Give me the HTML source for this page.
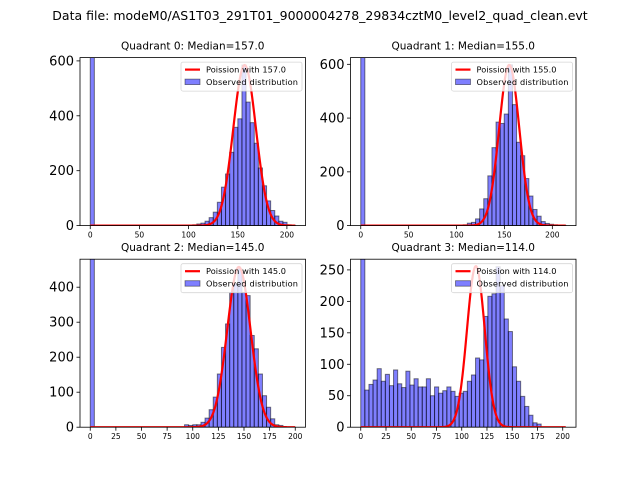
<!DOCTYPE html>
<html><head><meta charset="utf-8"><style>
html,body{margin:0;padding:0;background:#fff;}
svg{display:block;font-family:"DejaVu Sans","Liberation Sans",sans-serif;}
</style></head><body>
<svg id="fig" width="640" height="480" viewBox="0 0 640 480" xmlns="http://www.w3.org/2000/svg">
<rect width="640" height="480" fill="#fff"/>
<text x="320" y="20" font-size="12.5" text-anchor="middle">Data file: modeM0/AS1T03_291T01_9000004278_29834cztM0_level2_quad_clean.evt</text>
</svg>
<script>
// ---- data ----
const quadrantNames = ["Quadrant 0", "Quadrant 1", "Quadrant 2", "Quadrant 3"];
const medians = [157.0, 155.0, 145.0, 114.0];
const curveSigma = [11.5, 10.5, 11.4, 8.8];
const dataMax = [208.5, 214, 200, 203];
const yMax = [612, 625, 480, 267];
const poissonPeak = [585, 598, 458, 256];
const yTicks0 = [0, 200, 400, 600];
const yTicks1 = [0, 200, 400, 600];
const yTicks2 = [0, 100, 200, 300, 400];
const yTicks3 = [0, 50, 100, 150, 200, 250];
const xTicks0 = [0, 50, 100, 150, 200];
const xTicks1 = [0, 50, 100, 150, 200];
const xTicks2 = [0, 25, 50, 75, 100, 125, 150, 175, 200];
const xTicks3 = [0, 25, 50, 75, 100, 125, 150, 175, 200];
const counts0 = [2000,0,0,0,0,0,0,0,0,0,0,0,0,0,0,0,0,0,0,0,0,0,0,0,0,3,6,9,16,29,49,85,140,188,267,358,389,585,450,375,300,210,145,90,55,35,16,12,3,1];
const counts1 = [2000,0,0,0,0,0,0,0,0,0,0,0,0,0,0,0,0,0,0,0,0,0,0,0,0,3,9,12,25,62,100,185,290,385,380,415,598,450,310,260,175,110,60,35,15,8,5,3,1,1];
const counts2 = [2000,0,0,0,0,0,0,0,0,0,0,0,0,0,0,0,0,0,0,0,0,0,0,7,5,7,7,14,26,50,86,152,228,295,385,410,452,385,376,262,224,152,90,57,24,7,5,0,0,0];
const counts3 = [1000,59,68,75,93,73,84,66,91,69,63,89,67,77,64,64,77,50,64,54,58,64,57,49,54,57,73,83,110,107,176,208,212,255,225,172,152,96,73,49,33,19,7,5,0,0,0,0,0,0];
const allCounts = [counts0, counts1, counts2, counts3];
const allYTicks = [yTicks0, yTicks1, yTicks2, yTicks3];
const allXTicks = [xTicks0, xTicks1, xTicks2, xTicks3];

const NS = "http://www.w3.org/2000/svg";
const svg = document.getElementById('fig');
function mk(tag, attrs, parent) {
  const e = document.createElementNS(NS, tag);
  for (const k in attrs) e.setAttribute(k, attrs[k]);
  (parent || svg).appendChild(e);
  return e;
}
const axBoxes = [[80, 57.6], [350.5, 57.6], [80, 259.2], [350.5, 259.2]];
const AW = 225.5, AH = 168;

for (let q = 0; q < 4; q++) {
  const [L, T] = axBoxes[q];
  const g = mk('g', {});
  
  
  const xmin = -0.05 * dataMax[q], xmax = 1.05 * dataMax[q];
  const sx = v => L + (v - xmin) / (xmax - xmin) * AW;
  const sy = v => T + AH - v / yMax[q] * AH;
  const clipId = 'clip' + q;
  const cp = mk('clipPath', { id: clipId }, g);
  mk('rect', { x: L, y: T, width: AW, height: AH }, cp);
  const plot = mk('g', { 'clip-path': 'url(#' + clipId + ')' }, g);
  const counts = allCounts[q];
  const bw = dataMax[q] / counts.length;
  counts.forEach((c, k) => {
    if (c <= 0) return;
    const x0 = sx(k * bw), x1 = sx((k + 1) * bw);
    const y = sy(c);
    const r = mk('rect', { x: x0, y: y, width: x1 - x0, height: sy(0) - y, fill: 'rgba(0,0,255,0.5)', stroke: 'rgba(0,0,0,0.5)', 'stroke-width': 1 }, plot);
    
    
  });
  const mu = medians[q], sig = curveSigma[q];
  let d = '';
  for (let i = 0; i <= 300; i++) {
    const v = dataMax[q] * i / 300;
    const y = poissonPeak[q] * Math.exp(-0.5 * ((v - mu) / sig) ** 2);
    d += (i ? 'L' : 'M') + sx(v).toFixed(2) + ',' + sy(y).toFixed(2);
  }
  const curve = mk('path', { d: d, fill: 'none', stroke: '#ff0000', 'stroke-width': 2.2 }, plot);
  
  
  const fr = mk('rect', { x: L, y: T, width: AW, height: AH, fill: 'none', stroke: '#000', 'stroke-width': 0.8 }, g);
  
  
  allYTicks[q].forEach(t => {
    const y = sy(t);
    mk('line', { x1: L - 3.5, x2: L, y1: y, y2: y, stroke: '#000', 'stroke-width': 0.8 }, g);
    const tx = mk('text', { x: L - 6, y: y + 4.5, 'font-size': 13, 'text-anchor': 'end' }, g);
    tx.textContent = t;
    
    
  });
  allXTicks[q].forEach(t => {
    const x = sx(t);
    mk('line', { x1: x, x2: x, y1: T + AH, y2: T + AH + 3.5, stroke: '#000', 'stroke-width': 0.8 }, g);
    const tx = mk('text', { x: x, y: T + AH + 12, 'font-size': 7.5, 'text-anchor': 'middle' }, g);
    tx.textContent = t;
    
    
  });
  const ti = mk('text', { x: L + AW / 2, y: T - 8, 'font-size': 10.5, 'text-anchor': 'middle' }, g);
  ti.textContent = quadrantNames[q] + ': Median=' + medians[q].toFixed(1);
  
  
  const lg = mk('g', {}, g);
  
  
  const lx = L + AW - 124.5, ly = T + 4.5;
  mk('rect', { x: lx, y: ly, width: 121, height: 29, rx: 2, fill: 'rgba(255,255,255,0.8)', stroke: 'rgba(204,204,204,0.8)', 'stroke-width': 0.8 }, lg);
  mk('line', { x1: lx + 4, x2: lx + 19, y1: ly + 7.5, y2: ly + 7.5, stroke: '#ff0000', 'stroke-width': 2.2 }, lg);
  const t1 = mk('text', { x: lx + 25, y: ly + 10.3, 'font-size': 8.2, textLength: 80 }, lg);
  t1.textContent = 'Poission with ' + medians[q].toFixed(1);
  
  
  mk('rect', { x: lx + 4, y: ly + 17, width: 15, height: 5.5, fill: 'rgba(0,0,255,0.5)', stroke: 'rgba(0,0,0,0.5)', 'stroke-width': 0.8 }, lg);
  const t2 = mk('text', { x: lx + 25, y: ly + 22.8, 'font-size': 8.2, textLength: 92 }, lg);
  t2.textContent = 'Observed distribution';
  
  
}
</script>
</body></html>
